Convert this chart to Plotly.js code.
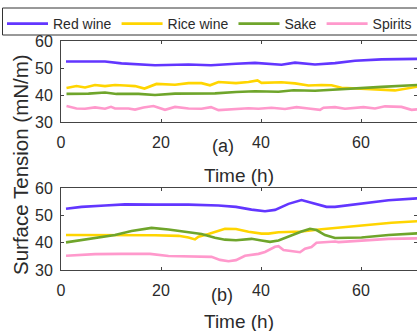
<!DOCTYPE html>
<html>
<head>
<meta charset="utf-8">
<script src="https://cdn.plot.ly/plotly-3.0.1.min.js"></script>
<style>html,body{margin:0;padding:0;background:#fff;}#chart{width:417px;height:331px;}</style>
</head>
<body>
<div id="chart"></div>
<script>
// Panel (a)
var tA_red = [1, 8.8, 12.1, 16.1, 18.8, 25.5, 30, 35, 38.8, 44.1, 46.8, 50.8, 54.8, 58.8, 64.1, 72];
var yA_red = [52.4, 52.4, 51.7, 51.4, 51.0, 51.3, 51.0, 51.6, 51.9, 51.2, 52.0, 51.3, 51.8, 52.7, 53.2, 53.4];
var tA_rice = [1.1, 3.1, 4.8, 6.8, 8.8, 10.8, 12.8, 14.8, 16.7, 17.8, 19.1, 22.8, 25.5, 28.1, 29.8, 31.5, 35, 37.5, 39.3, 40.1, 44.1, 46.8, 49.5, 52.1, 54.1, 56.1, 60.1, 64.1, 66.8, 72];
var yA_rice = [42.6, 43.3, 42.8, 43.7, 43.3, 43.7, 43.5, 43.3, 42.4, 43.2, 44.1, 43.8, 44.4, 44.4, 43.6, 44.8, 44.4, 44.8, 45.4, 44.5, 44.7, 44.3, 43.5, 43.7, 43.6, 42.7, 42.4, 41.9, 41.7, 43.3];
var tA_sake = [1.1, 5.5, 8.8, 11.1, 15.5, 18.8, 22.8, 30.8, 35, 38.8, 43.5, 46.5, 50.8, 54.1, 58.8, 64.1, 72];
var yA_sake = [40.4, 40.5, 40.9, 40.4, 40.4, 40.0, 40.5, 40.6, 41.1, 41.4, 41.2, 41.75, 41.6, 42.0, 42.5, 43.0, 43.8];
var tA_spir = [1.1, 3.1, 4.8, 6.8, 8.8, 10, 10.8, 13.5, 14.8, 16.5, 18.5, 20.8, 22.8, 25.5, 28.1, 30, 31.5, 35, 37.5, 39.5, 42.1, 44.8, 47.1, 49.5, 51.8, 52.5, 54.8, 56.8, 60.5, 62.8, 64.8, 68.1, 70.1, 72];
var yA_spir = [35.9, 35.0, 34.9, 35.4, 34.9, 35.6, 35.0, 35.0, 34.6, 35.4, 35.9, 34.5, 35.6, 35.0, 34.9, 35.5, 34.4, 34.9, 35.1, 34.9, 35.3, 34.8, 35.5, 35.0, 34.5, 35.3, 35.5, 34.9, 35.5, 35.0, 35.8, 35.6, 34.5, 34.8];

// Panel (b)
var tB_red = [1, 4.1, 8.8, 12.8, 18.8, 25.5, 31.5, 35, 38.1, 40.8, 42.8, 45.5, 48.1, 50.8, 53.1, 54.8, 60.1, 65.5, 72];
var yB_red = [52.4, 53.1, 53.6, 54.0, 53.9, 53.9, 53.6, 53.1, 52.1, 51.5, 52.0, 54.2, 55.6, 54.1, 53.1, 53.1, 54.3, 55.5, 56.3];
var tB_rice = [1, 12.1, 18.8, 23.5, 25.5, 26.8, 27.5, 29.5, 31.5, 32.8, 35, 37.5, 40.1, 41.5, 43.5, 48.1, 52.1, 56.8, 61.5, 66.1, 72];
var yB_rice = [42.8, 42.8, 42.7, 42.5, 41.9, 41.2, 42.2, 43.2, 44.3, 45.1, 45.0, 44.0, 43.3, 43.3, 43.8, 44.1, 44.9, 45.7, 46.6, 47.3, 47.9];
var tB_sake = [1, 4.1, 10.8, 14.1, 18.1, 21.5, 25.5, 28.1, 30.8, 32.8, 35, 38.1, 40.1, 41.8, 43.5, 46.1, 48.1, 49.8, 51.1, 52.8, 54.8, 60.1, 65.5, 72];
var yB_sake = [40.1, 40.9, 42.8, 44.3, 45.4, 44.8, 43.9, 43.2, 41.8, 41.1, 40.9, 41.4, 40.8, 40.3, 40.8, 42.8, 44.1, 45.1, 44.6, 42.8, 41.7, 41.9, 42.8, 43.5];
var tB_spir = [1, 6.8, 12.1, 17.8, 21.5, 25.5, 30.1, 31.8, 33.5, 35, 36.8, 39.5, 40.8, 42.8, 43.5, 44.5, 46.8, 47.8, 48.8, 50.1, 51.1, 53.5, 54.8, 55.5, 60.1, 65.5, 72];
var yB_spir = [35.2, 35.8, 35.9, 35.9, 35.1, 34.9, 34.8, 33.7, 33.2, 33.6, 35.2, 35.9, 36.6, 38.5, 38.7, 37.3, 36.6, 36.5, 37.8, 38.4, 40.0, 40.3, 40.4, 40.2, 40.7, 41.4, 41.6];

var names = ['Red wine', 'Rice wine', 'Sake', 'Spirits'];
var colors = ['#6236FF', '#FFD500', '#6FA52B', '#FF99CC'];
var yTicks = [30, 40, 50, 60];
var xTicks = [0, 20, 40, 60];

var W = 417, H = 331, L = 61, T = 41, B = 61;
var pw = W - L, ph = H - T - B;
function px2x(p) { return (p - L) / pw; }
function py2y(p) { return (H - B - p) / ph; }

var seriesA = [[tA_red, yA_red], [tA_rice, yA_rice], [tA_sake, yA_sake], [tA_spir, yA_spir]];
var seriesB = [[tB_red, yB_red], [tB_rice, yB_rice], [tB_sake, yB_sake], [tB_spir, yB_spir]];
var data = [];
seriesA.forEach(function (s, i) {
  data.push({x: s[0], y: s[1], type: 'scatter', mode: 'lines', name: names[i], legendgroup: names[i],
    line: {color: colors[i], width: 2.6}, xaxis: 'x', yaxis: 'y', showlegend: true});
});
seriesB.forEach(function (s, i) {
  data.push({x: s[0], y: s[1], type: 'scatter', mode: 'lines', name: names[i], legendgroup: names[i],
    line: {color: colors[i], width: 2.6}, xaxis: 'x2', yaxis: 'y2', showlegend: false});
});

var axCol = '#444';
var font = {family: 'Liberation Sans, Arial, sans-serif', color: '#2b2b2b'};
function xax(anchor) {
  return {anchor: anchor, range: [0, pw / 5], tickvals: xTicks, ticktext: xTicks.map(String),
    ticks: 'inside', ticklen: 3, tickcolor: axCol, showline: true, linecolor: axCol, linewidth: 1,
    mirror: 'ticks', showgrid: false, zeroline: false, tickfont: {size: 16, family: font.family, color: '#2b2b2b'},
    ticklabelstandoff: 6};
}
function yax(anchor, dom) {
  return {anchor: anchor, domain: dom, range: [30, 60], tickvals: yTicks, ticktext: yTicks.map(String),
    ticks: 'inside', ticklen: 3, tickcolor: axCol, showline: true, linecolor: axCol, linewidth: 1,
    mirror: 'ticks', showgrid: false, zeroline: false, tickfont: {size: 16, family: font.family, color: '#2b2b2b'},
    ticklabelstandoff: 4};
}

var layout = {
  width: W, height: H,
  margin: {l: L, r: 0, t: T, b: B, pad: 0},
  paper_bgcolor: '#fff', plot_bgcolor: '#fff',
  font: font,
  showlegend: true,
  legend: {orientation: 'h', x: px2x(2), xanchor: 'left', y: py2y(8), yanchor: 'top',
    font: {size: 14, family: font.family, color: '#2b2b2b'}, itemwidth: 41, borderwidth: 0,
    bgcolor: 'rgba(0,0,0,0)', traceorder: 'normal'},
  xaxis: xax('y'),
  yaxis: yax('x', [py2y(122), 1]),
  xaxis2: xax('y2'),
  yaxis2: yax('x2', [0, py2y(188)]),
  shapes: [
    {type: 'rect', xref: 'paper', yref: 'paper', x0: px2x(2.5), x1: px2x(440), y0: py2y(35), y1: py2y(8),
      line: {color: '#333', width: 1}, fillcolor: 'rgba(0,0,0,0)'}
  ],
  annotations: [
    {text: '(a)', xref: 'paper', yref: 'paper', x: px2x(223), y: py2y(146), showarrow: false,
      xanchor: 'center', yanchor: 'middle', font: {size: 18}},
    {text: '(b)', xref: 'paper', yref: 'paper', x: px2x(222), y: py2y(295), showarrow: false,
      xanchor: 'center', yanchor: 'middle', font: {size: 18}},
    {text: 'Time (h)', xref: 'paper', yref: 'paper', x: px2x(239), y: py2y(176), showarrow: false,
      xanchor: 'center', yanchor: 'middle', font: {size: 19}},
    {text: 'Time (h)', xref: 'paper', yref: 'paper', x: px2x(239), y: py2y(321), showarrow: false,
      xanchor: 'center', yanchor: 'middle', font: {size: 19}},
    {text: 'Surface Tension (mN/m)', xref: 'paper', yref: 'paper', x: px2x(20), y: py2y(165), showarrow: false,
      xanchor: 'center', yanchor: 'middle', textangle: -90, font: {size: 20.5}}
  ]
};

Plotly.newPlot('chart', data, layout, {staticPlot: true, displayModeBar: false});
</script>
</body>
</html>
